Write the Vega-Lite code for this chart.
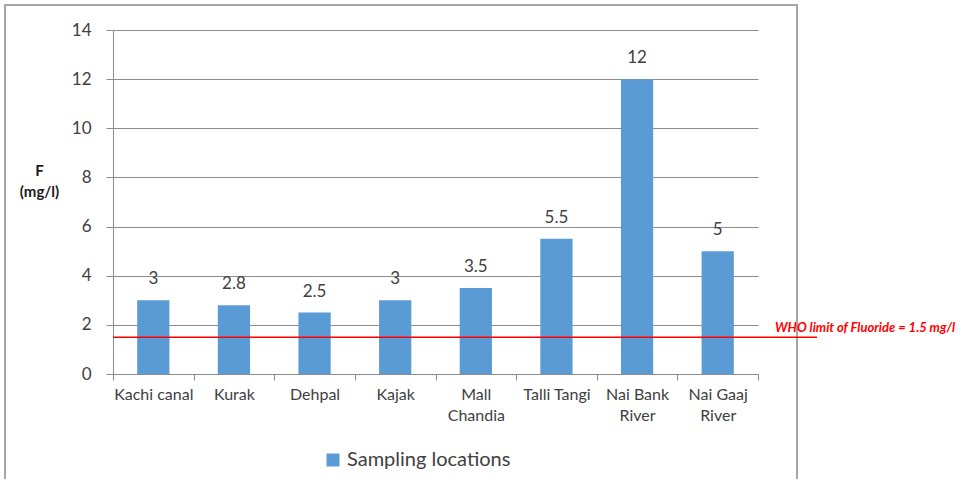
{
  "$schema": "https://vega.github.io/schema/vega-lite/v6.json",
  "width": 792,
  "height": 476,
  "autosize": {"type": "none"},
  "padding": {"left": 5, "top": 5, "right": 164, "bottom": 0},
  "background": "white",
  "config": {
    "view": {"stroke": "#a6a6a6", "strokeWidth": 2},
    "font": "Lato"
  },
  "data": {
    "values": [
      {"location": "Kachi canal", "fluoride": 3},
      {"location": "Kurak", "fluoride": 2.8},
      {"location": "Dehpal", "fluoride": 2.5},
      {"location": "Kajak", "fluoride": 3},
      {"location": "Mall Chandia", "fluoride": 3.5},
      {"location": "Talli Tangi", "fluoride": 5.5},
      {"location": "Nai Bank River", "fluoride": 12},
      {"location": "Nai Gaaj River", "fluoride": 5}
    ]
  },
  "layer": [
    {
      "mark": {"type": "bar", "width": {"band": 0.4}, "color": "#5B9BD5"},
      "encoding": {
        "x": {
          "field": "location",
          "type": "nominal",
          "scale": {
            "domain": ["Kachi canal", "Kurak", "Dehpal", "Kajak", "Mall Chandia", "Talli Tangi", "Nai Bank River", "Nai Gaaj River"],
            "range": [108, 753],
            "paddingInner": 0,
            "paddingOuter": 0
          },
          "axis": {
            "title": null,
            "offset": -107,
            "tickBand": "extent",
            "grid": false,
            "domainColor": "#8c8c8c",
            "tickColor": "#8c8c8c",
            "tickSize": 6,
            "labelAngle": 0,
            "labelFontSize": 16,
            "labelColor": "#404040",
            "labelPadding": 6,
            "labelLineHeight": 21,
            "labelExpr": "datum.label == 'Mall Chandia' ? ['Mall', 'Chandia'] : datum.label == 'Nai Bank River' ? ['Nai Bank', 'River'] : datum.label == 'Nai Gaaj River' ? ['Nai Gaaj', 'River'] : datum.label"
          }
        },
        "y": {
          "field": "fluoride",
          "type": "quantitative",
          "scale": {"domain": [0, 14], "range": [369, 25], "nice": false},
          "axis": {
            "offset": -108,
            "values": [0, 2, 4, 6, 8, 10, 12, 14],
            "grid": true,
            "gridColor": "#8c8c8c",
            "domainColor": "#8c8c8c",
            "tickColor": "#8c8c8c",
            "tickSize": 7,
            "labelFontSize": 17,
            "labelColor": "#404040",
            "labelPadding": 15,
            "title": ["F", "(mg/l)"],
            "titleAngle": 0,
            "titleFontSize": 15,
            "titleFontWeight": "bold",
            "titleColor": "#1a1a1a",
            "titleAlign": "center",
            "titleBaseline": "middle",
            "titleLineHeight": 21,
            "titleX": -74,
            "titleY": 165
          }
        },
        "color": {
          "datum": "Sampling locations",
          "scale": {"range": ["#5B9BD5"]},
          "legend": {
            "title": null,
            "orient": "none",
            "legendX": 318,
            "legendY": 445,
            "symbolType": "square",
            "symbolSize": 169,
            "symbolStrokeWidth": 0,
            "labelFontSize": 20,
            "labelLimit": 400,
            "labelColor": "#404040",
            "labelOffset": 4
          }
        }
      }
    },
    {
      "mark": {"type": "text", "baseline": "middle", "dy": -21, "fontSize": 17, "color": "#404040"},
      "encoding": {
        "x": {"field": "location", "type": "nominal"},
        "y": {"field": "fluoride", "type": "quantitative"},
        "text": {"field": "fluoride", "type": "quantitative"}
      }
    },
    {
      "data": {"values": [{"limit": 1.5, "from": "Kachi canal", "to": "Nai Gaaj River", "note": "WHO limit of Fluoride = 1.5 mg/l"}]},
      "mark": {"type": "rule", "color": "#ff0000", "strokeWidth": 1.5, "x2Offset": 59},
      "encoding": {
        "x": {"field": "from", "type": "nominal", "bandPosition": 0},
        "x2": {"field": "to", "bandPosition": 1},
        "y": {"field": "limit", "type": "quantitative"}
      }
    },
    {
      "data": {"values": [{"limit": 1.5, "to": "Nai Gaaj River", "note": "WHO limit of Fluoride = 1.5 mg/l"}]},
      "mark": {"type": "text", "align": "left", "baseline": "middle", "dx": 17, "dy": -9, "fontSize": 13, "fontStyle": "italic", "fontWeight": "bold", "color": "#ff0000"},
      "encoding": {
        "x": {"field": "to", "type": "nominal", "bandPosition": 1},
        "y": {"field": "limit", "type": "quantitative"},
        "text": {"field": "note"}
      }
    }
  ]
}
